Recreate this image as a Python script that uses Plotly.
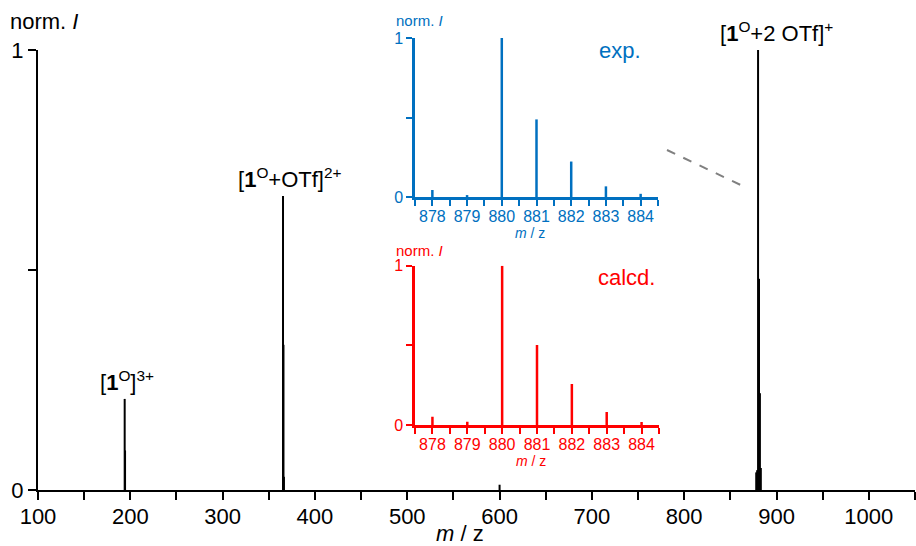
import plotly.graph_objects as go

# ---- data ----
main_mz = [193.9, 194.3, 365.4, 365.9, 366.4, 600.0, 878.0, 879.0, 880.0, 881.0, 882.0, 883.0]
main_int = [0.207, 0.09, 0.668, 0.33, 0.03, 0.012, 0.04, 0.045, 1.0, 0.48, 0.22, 0.05]

iso_mz = [878, 879, 880, 881, 882, 883, 884]
exp_int = [0.044, 0.012, 1.0, 0.488, 0.223, 0.067, 0.02]
calc_int = [0.052, 0.02, 1.0, 0.502, 0.257, 0.082, 0.019]

main_xticks = [100, 200, 300, 400, 500, 600, 700, 800, 900, 1000]
iso_xticks = [878, 879, 880, 881, 882, 883, 884]
y_ticks = [0, 0.5, 1]
y_ticktext = ["0", "", "1"]

labels = [
    (194.1, 0.207, "[<b>1</b><sup>O</sup>]<sup>3+</sup>", 2),
    (365.4, 0.668, "[<b>1</b><sup>O</sup>+OTf]<sup>2+</sup>", 7),
    (880.0, 1.0, "[<b>1</b><sup>O</sup>+2 OTf]<sup>+</sup>", 18),
]

FONT = "Liberation Sans, Arial, sans-serif"
BLUE = "#0070C0"
RED = "#FF0000"
W, H = 916, 546


def sticks(xs, ys):
    X, Y = [], []
    for x, y in zip(xs, ys):
        X += [x, x, None]
        Y += [0, y, None]
    return X, Y


def px(xp):
    return xp / W


def py(yp):
    return 1 - yp / H


fig = go.Figure()

X, Y = sticks(main_mz, main_int)
fig.add_trace(go.Scatter(x=X, y=Y, mode="lines", line=dict(color="black", width=2),
                         xaxis="x", yaxis="y", hoverinfo="skip", showlegend=False))
X, Y = sticks(iso_mz, exp_int)
fig.add_trace(go.Scatter(x=X, y=Y, mode="lines", line=dict(color=BLUE, width=2.5),
                         xaxis="x2", yaxis="y2", hoverinfo="skip", showlegend=False))
X, Y = sticks(iso_mz, calc_int)
fig.add_trace(go.Scatter(x=X, y=Y, mode="lines", line=dict(color=RED, width=2.5),
                         xaxis="x3", yaxis="y3", hoverinfo="skip", showlegend=False))


def xax(domain, rng, tickvals, color, size, dtick_minor, ticklen, anchor, standoff):
    return dict(domain=domain, range=rng, tickvals=tickvals, ticks="outside",
                ticklen=ticklen, tickwidth=2, tickcolor=color, showline=True,
                linecolor=color, linewidth=2.5 if color != "black" else 2,
                showgrid=False, zeroline=False, anchor=anchor, automargin=False,
                ticklabelstandoff=standoff,
                tickfont=dict(family=FONT, size=size, color=color),
                minor=dict(dtick=dtick_minor, tick0=tickvals[0], ticks="outside",
                           ticklen=ticklen, tickwidth=2, tickcolor=color, showgrid=False))


def yax(domain, color, size, ticklen, anchor):
    return dict(domain=domain, range=[0, 1], tickvals=y_ticks, ticktext=y_ticktext,
                ticks="outside", ticklen=ticklen, tickwidth=2, tickcolor=color,
                showline=True, linecolor=color, linewidth=2.5 if color != "black" else 2,
                showgrid=False, zeroline=False, anchor=anchor, automargin=False,
                tickfont=dict(family=FONT, size=size, color=color))


fig.update_layout(
    width=W, height=H, margin=dict(l=0, r=0, t=0, b=0, autoexpand=False),
    paper_bgcolor="white", plot_bgcolor="rgba(0,0,0,0)",
    xaxis=xax([px(38), px(915)], [100, 1050], main_xticks, "black", 22, 50, 8, "y", -2),
    yaxis=yax([py(490), py(50)], "black", 22, 8, "x"),
    xaxis2=xax([px(415), px(658)], [877.5, 884.5], iso_xticks, BLUE, 16, 0.5, 6, "y2", -3),
    yaxis2=yax([py(197), py(38)], BLUE, 16, 6, "x2"),
    xaxis3=xax([px(415), px(659)], [877.5, 884.5], iso_xticks, RED, 16, 0.5, 6, "y3", -3),
    yaxis3=yax([py(425), py(265.7)], RED, 16, 6, "x3"),
)

ann = []
for x, y, t, dx in labels:
    ann.append(dict(x=x, y=y, xref="x", yref="y", text=t, showarrow=False,
                    xanchor="center", yanchor="bottom", yshift=2, xshift=dx,
                    font=dict(family=FONT, size=22, color="black")))

# axis titles and panel labels
ann += [
    dict(x=px(460), y=py(533), xref="paper", yref="paper", text="<i>m</i> / z",
         showarrow=False, xanchor="center", yanchor="middle",
         font=dict(family=FONT, size=22, color="black")),
    dict(x=px(8), y=py(22), xref="paper", yref="paper", text="norm. <i>I</i>",
         showarrow=False, xanchor="left", yanchor="middle",
         font=dict(family=FONT, size=22, color="black")),
    dict(x=px(394), y=py(21), xref="paper", yref="paper", text="norm. <i>I</i>",
         showarrow=False, xanchor="left", yanchor="middle",
         font=dict(family=FONT, size=15, color=BLUE)),
    dict(x=px(394), y=py(251), xref="paper", yref="paper", text="norm. <i>I</i>",
         showarrow=False, xanchor="left", yanchor="middle",
         font=dict(family=FONT, size=15, color=RED)),
    dict(x=px(530), y=py(232.5), xref="paper", yref="paper", text="<i>m</i> / z",
         showarrow=False, xanchor="center", yanchor="middle",
         font=dict(family=FONT, size=14, color=BLUE)),
    dict(x=px(531), y=py(460.5), xref="paper", yref="paper", text="<i>m</i> / z",
         showarrow=False, xanchor="center", yanchor="middle",
         font=dict(family=FONT, size=14, color=RED)),
    dict(x=px(597), y=py(50), xref="paper", yref="paper", text="exp.",
         showarrow=False, xanchor="left", yanchor="middle",
         font=dict(family=FONT, size=22, color=BLUE)),
    dict(x=px(596), y=py(277), xref="paper", yref="paper", text="calcd.",
         showarrow=False, xanchor="left", yanchor="middle",
         font=dict(family=FONT, size=22, color=RED)),
]
fig.update_layout(annotations=ann)

fig.add_shape(type="line", xref="paper", yref="paper",
              x0=px(667), y0=py(150), x1=px(747), y1=py(188),
              line=dict(color="#808080", width=2, dash="dash"))

fig.write_html("out.html")
